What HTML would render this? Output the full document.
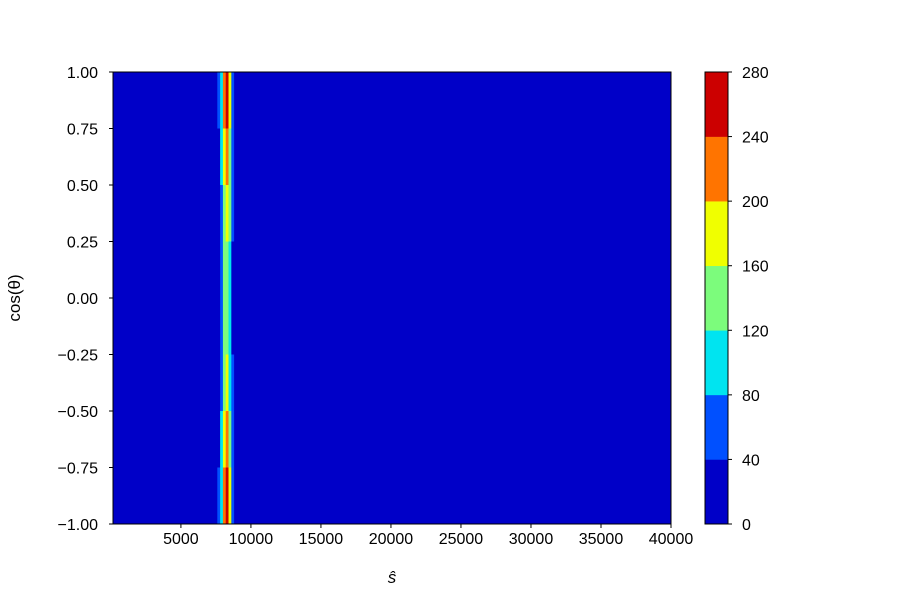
<!DOCTYPE html>
<html><head><meta charset="utf-8"><style>body{margin:0;background:#fff}svg{font-family:"Liberation Sans","DejaVu Sans",sans-serif}</style></head>
<body>
<svg id="chart" width="900" height="600"></svg>
<script>
const sColumns=[7700,7900,8100,8300,8500,8700,8900];
const cosRows=[0.875,0.625,0.375,0.125,-0.125,-0.375,-0.625,-0.875];
const row0=[40,90,200,270,180,60,10];
const row1=[30,80,170,210,150,50,10];
const row2=[20,70,150,180,120,40,10];
const row3=[20,60,130,150,100,30,10];
const row4=[20,60,130,150,100,30,10];
const row5=[20,70,140,170,110,40,10];
const row6=[30,80,160,200,130,50,10];
const row7=[50,100,210,270,170,60,10];
const values=[row0,row1,row2,row3,row4,row5,row6,row7];
const levels=[0,40,80,120,160,200,240,280];
const xTicks=[5000,10000,15000,20000,25000,30000,35000,40000];
const yTicks=[-1,-0.75,-0.5,-0.25,0,0.25,0.5,0.75,1];
const colors=["#0000c8","#0050ff","#00e4f0","#7cfc7c","#f0ff00","#ff7400","#cc0000"];
const NS="http://www.w3.org/2000/svg";
const svg=document.getElementById('chart');
const L=113,R=671,T=72,B=524,xMin=150,xMax=40000;
const X=v=>L+(v-xMin)/(xMax-xMin)*(R-L);
const Y=v=>B-(v+1)/2*(B-T);
function el(t,a,p){const e=document.createElementNS(NS,t);for(const k in a)e.setAttribute(k,a[k]);(p||svg).appendChild(e);return e;}
function band(v){let i=0;while(i<colors.length-1&&v>=levels[i+1])i++;return colors[i];}
const bg=el('rect',{x:L,y:T,width:R-L,height:B-T,fill:colors[0]});


const dw=sColumns[1]-sColumns[0];
cosRows.forEach((c,ri)=>{sColumns.forEach((s,ci)=>{
 const r=el('rect',{x:X(s-dw/2),y:Y(c+0.125),width:X(s+dw/2)-X(s-dw/2)+0.3,height:Y(c-0.125)-Y(c+0.125)+0.3,fill:band(values[ri][ci])});
 
 
});});
const fr=el('rect',{x:L,y:T,width:R-L,height:B-T,fill:'none',stroke:'#000','stroke-width':1});


xTicks.forEach(t=>{const x=X(t);el('line',{x1:x,x2:x,y1:B,y2:B+4,stroke:'#000'});
 const tx=el('text',{x:x,y:B+20,'text-anchor':'middle','font-size':16});tx.textContent=t;
 
 });
yTicks.forEach(t=>{const y=Y(t);el('line',{x1:L-4,x2:L,y1:y,y2:y,stroke:'#000'});
 const tx=el('text',{x:L-15,y:y+6,'text-anchor':'end','font-size':16});tx.textContent=t.toFixed(2).replace('-','\u2212');
 
 });
const xl=el('text',{x:392,y:583,'text-anchor':'middle','font-size':17,'font-style':'italic'});xl.textContent='ŝ';


const yl=el('text',{x:20,y:298,'text-anchor':'middle','font-size':17,transform:'rotate(-90 20 298)'});yl.textContent='cos(θ)';


const CL=705,CR=728,bh=(B-T)/colors.length;
colors.forEach((c,i)=>{const r=el('rect',{x:CL,y:B-(i+1)*bh,width:CR-CL,height:bh+0.3,fill:c});
 
 });
el('rect',{x:CL,y:T,width:CR-CL,height:B-T,fill:'none',stroke:'#000'});
levels.forEach((v,i)=>{const y=B-i*bh;el('line',{x1:CR,x2:CR+4,y1:y,y2:y,stroke:'#000'});
 const tx=el('text',{x:CR+14,y:y+6,'font-size':16});tx.textContent=v;
 
 });
</script>
</body></html>
